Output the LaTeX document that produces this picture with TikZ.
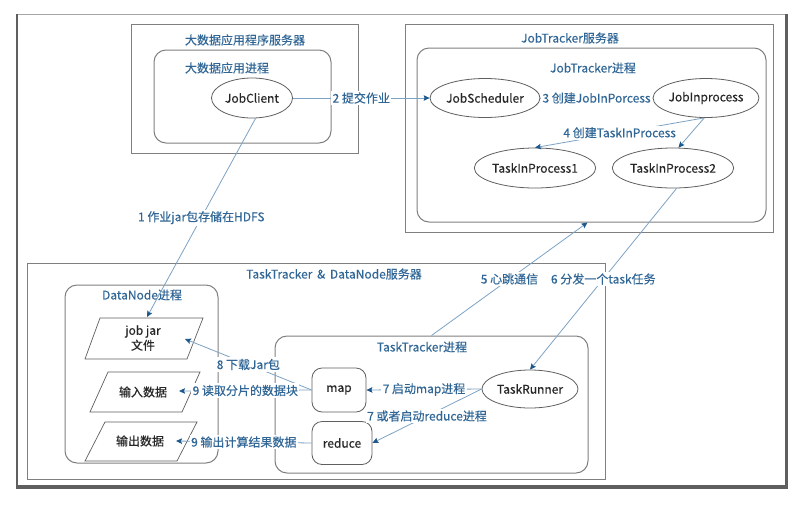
\documentclass[tikz,border=0pt]{standalone}
\usepackage{fontspec}
\setmainfont[FakeBold=0.3]{Noto Sans CJK SC}
\usetikzlibrary{arrows.meta,shapes.geometric}
\definecolor{lblue}{RGB}{125,163,196}
\definecolor{tblue}{RGB}{48,102,150}
\definecolor{ablue}{RGB}{30,88,140}
\definecolor{bgray}{RGB}{128,128,128}
\definecolor{fgray}{RGB}{95,95,95}
\begin{document}
\begin{tikzpicture}[x=1pt,y=-1pt,
  font=\fontsize{12}{14}\selectfont,
  box/.style={draw=bgray, line width=1pt, inner sep=0pt, minimum width=#1},
  rbox/.style={box=#1, rounded corners=12pt},
  ell/.style={draw=fgray, line width=0.8pt, ellipse, inner sep=0pt, text=black!85},
  pgram/.style={draw=fgray, line width=0.7pt},
  title/.style={text=tblue, inner sep=1pt},
  conn/.style={draw=lblue, line width=0.8pt, -{Stealth[length=6pt,width=5.5pt,inset=1pt,color=ablue]}},
  lbl/.style={text=tblue, fill=white, inner sep=1.5pt},
  task/.style={draw=fgray, line width=0.8pt, rounded corners=10pt, inner sep=0pt, text=black!85},
]
\useasboundingbox (0,0) rectangle (798,507);
\fill[white] (0,0) rectangle (798,507);
% outer frame
\draw[gray!70, line width=1pt] (17,14) rectangle (786,487);
\draw[fgray, line width=2pt] (17,14) -- (17,488);
\draw[fgray, line width=3pt] (786,14) -- (786,488);
\draw[fgray, line width=4pt] (16,487) -- (787.5,487);

% server boxes
\node[box=227pt, minimum height=129pt] (srvA) at (244.5,88.5) {};
\node[rbox=177pt, minimum height=93pt] (procA) at (242.5,96.5) {};
\node[box=368pt, minimum height=208pt] (srvB) at (589,128) {};
\node[rbox=349pt, minimum height=174pt] (procB) at (591.5,135) {};
\node[box=578pt, minimum height=216pt] (srvC) at (316,371) {};
\node[rbox=153pt, minimum height=178pt] (procDN) at (141.5,374) {};
\node[rbox=313pt, minimum height=137pt] (procTT) at (431.5,404.5) {};

% titles
\node[title] (tA) at (245,40) {大数据应用程序服务器};
\node[title] (tpA) at (227,68) {大数据应用进程};
\node[title] (tB) at (570,38) {JobTracker服务器};
\node[title] (tpB) at (593,68) {JobTracker进程};
\node[title] (tC) at (334,274) {TaskTracker \,\&\, DataNode服务器};
\node[title] (tDN) at (142,295) {DataNode进程};
\node[title] (tTT) at (422,347) {TaskTracker进程};

% ellipses
\node[ell, minimum width=81pt, minimum height=40pt] (jc) at (252,98) {JobClient};
\node[ell, minimum width=96pt, minimum height=39pt] (js) at (485,98) {JobScheduler};
\node[ell, minimum width=97pt, minimum height=39pt] (jip) at (706,98) {JobInprocess};
\node[ell, minimum width=106pt, minimum height=40pt] (tip1) at (535,168) {TaskInProcess1};
\node[ell, minimum width=100pt, minimum height=40pt] (tip2) at (673,168) {TaskInProcess2};
\node[ell, minimum width=96pt, minimum height=38pt] (tr) at (530,389) {TaskRunner};

% task boxes
\node[task, minimum width=54pt, minimum height=44pt] (map) at (339,390) {map};
\node[task, minimum width=60pt, minimum height=43pt] (red) at (342,443) {reduce};

% parallelograms
\draw[pgram] (100,318) -- (203,318) -- (187,359) -- (85,359) -- cycle;
\draw[pgram] (108,372) -- (200,372) -- (182,412) -- (90,412) -- cycle;
\draw[pgram] (105,422) -- (197,422) -- (177,461) -- (85,461) -- cycle;
\node[align=center, inner sep=0pt, text=black!85, font=\fontsize{12}{15}\selectfont] (jar) at (143,338) {job jar\\文件};
\node[inner sep=0pt, text=black!85] (inp) at (143,392) {输入数据};
\node[inner sep=0pt, text=black!85] (outp) at (140,441) {输出数据};
\coordinate (jarTop) at (147,317);
\coordinate (jarR) at (185,339);
\coordinate (inpR) at (179,391);
\coordinate (outR) at (176,441);

% connectors
\draw[conn] (jc.-80) -- node[lbl]{1 作业jar包存储在HDFS} (jarTop);
\draw[conn] (jc.east) -- node[lbl]{2 提交作业} (js.west);
\draw[conn] (js.east) -- node[lbl]{3 创建JobInPorcess} (jip.west);
\draw[conn] (jip.-95) -- node[lbl]{4 创建TaskInProcess} (tip1.north);
\draw[conn] (jip.-95) -- (tip2.75);
\draw[conn] (procTT.north) -- node[lbl]{5 心跳通信} ([xshift=-4pt]procB.south);
\draw[conn] (tip2.-80) -- node[lbl]{6 分发一个task任务} (tr.north);
\draw[conn] (tr.west) -- node[lbl]{7 启动map进程} (map.east);
\draw[conn] (tr.west) -- node[lbl]{7 或者启动reduce进程} (red.east);
\draw[conn] (map.west) -- node[lbl]{8 下载Jar包} (jarR);
\draw[conn] (map.west) -- node[lbl]{9 读取分片的数据块} (inpR);
\draw[conn] (red.west) -- node[lbl]{9 输出计算结果数据} (outR);
\end{tikzpicture}
\end{document}
